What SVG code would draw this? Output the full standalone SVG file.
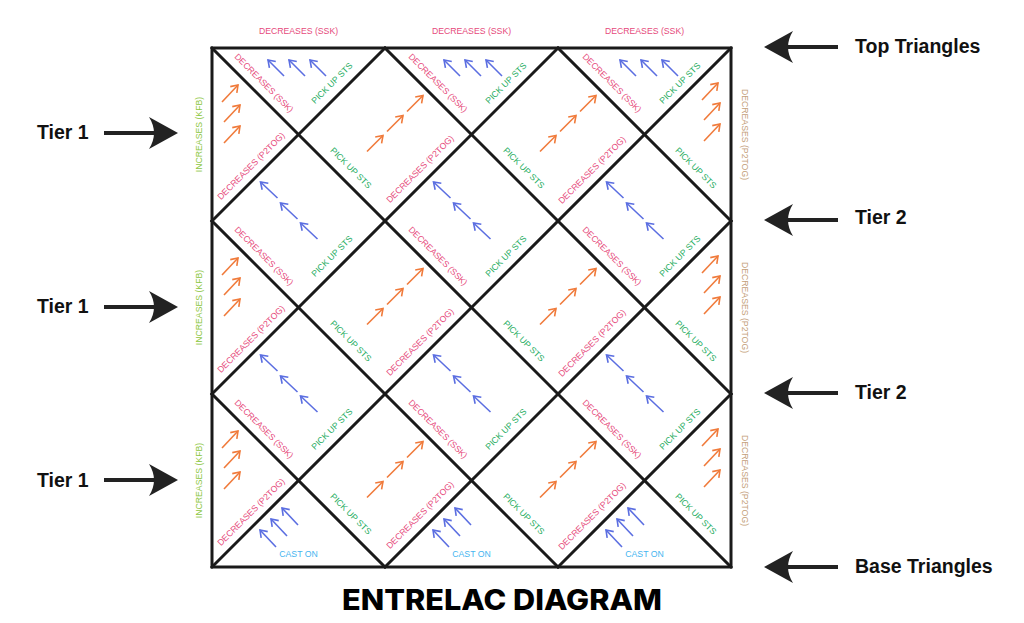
<svg xmlns="http://www.w3.org/2000/svg" xmlns:xlink="http://www.w3.org/1999/xlink" width="1024" height="623" viewBox="0 0 1024 623">
<style>
.lbl{font-family:"Liberation Sans",Arial,sans-serif;font-size:8.7px;text-anchor:middle;dominant-baseline:central}
.pink{fill:#e64a7b}
.green{fill:#26ad5f}
.cast{fill:#45b5f0}
.inc{fill:#8cc63e}
.dec2{fill:#c4a07a}
.big{font-family:"Liberation Sans",Arial,sans-serif;font-size:19.5px;font-weight:bold;fill:#111}
.title{font-family:Inter,"Liberation Sans",sans-serif;font-size:28px;font-weight:800;fill:#000;text-anchor:middle}
.grid{stroke:#1a1a1a;stroke-width:3;fill:none;stroke-linecap:square}
.ba line{stroke:#5b6ee1;stroke-width:1.6;marker-end:url(#mb)}
.oa line{stroke:#f07a3a;stroke-width:1.6;marker-end:url(#mo)}
</style>
<defs>
<marker id="mb" markerUnits="userSpaceOnUse" orient="auto" markerWidth="12" markerHeight="12" refX="0" refY="0" viewBox="-8 -6 10 12" overflow="visible"><path d="M-6.5,-4.5 L0,0 L-6.5,4.5" fill="none" stroke="#5b6ee1" stroke-width="1.6"/></marker>
<marker id="mo" markerUnits="userSpaceOnUse" orient="auto" markerWidth="12" markerHeight="12" refX="0" refY="0" viewBox="-8 -6 10 12" overflow="visible"><path d="M-6.5,-4.5 L0,0 L-6.5,4.5" fill="none" stroke="#f07a3a" stroke-width="1.6"/></marker>
<g id="bt3" class="ba"><line x1="16" y1="16" x2="0" y2="0"/><line x1="37" y1="16" x2="21" y2="0"/><line x1="58" y1="16" x2="42" y2="0"/></g>
<g id="ol3" class="oa"><line x1="0" y1="0" x2="16" y2="-17"/><line x1="2" y1="20" x2="18" y2="3"/><line x1="2" y1="41" x2="18" y2="24"/></g>
<g id="od3" class="oa"><line x1="-18" y1="17" x2="-2" y2="1"/><line x1="2" y1="-3" x2="18" y2="-19"/><line x1="22" y1="-23" x2="38" y2="-39"/></g>
<g id="bd3" class="ba"><line x1="-21" y1="-23" x2="-38" y2="-39"/><line x1="-1" y1="-2" x2="-18" y2="-18"/><line x1="19" y1="18" x2="2" y2="2"/></g>
<g id="bb3" class="ba"><line x1="64" y1="153" x2="48" y2="136"/><line x1="75" y1="142" x2="59" y2="125"/><line x1="86" y1="131" x2="70" y2="114"/></g>
<g id="bigArrow" fill="#222"><rect x="-74" y="-2" width="54" height="4"/><path d="M0,0 L-29,-16 Q-19,0 -29,16 Z"/></g>
</defs>
<rect width="1024" height="623" fill="#fff"/>

<g id="connectors">
<rect class="grid" x="212" y="48" width="519" height="519"/>
<path class="grid" d="M212,394 L385,567 M212,221 L558,567 M212,48 L731,567 M385,48 L731,394 M558,48 L731,221"/>
<path class="grid" d="M212,221 L385,48 M212,394 L558,48 M212,567 L731,48 M385,567 L731,221 M558,567 L731,394"/>
<use href="#bigArrow" transform="translate(178,133)"/>
<use href="#bigArrow" transform="translate(178,307)"/>
<use href="#bigArrow" transform="translate(178,480)"/>
<use href="#bigArrow" transform="translate(764,47) scale(-1,1)"/>
<use href="#bigArrow" transform="translate(764,220) scale(-1,1)"/>
<use href="#bigArrow" transform="translate(764,393) scale(-1,1)"/>
<use href="#bigArrow" transform="translate(764,567) scale(-1,1)"/>
</g>

<g id="top-triangles">
<text class="lbl pink" x="298.5" y="31">DECREASES (SSK)</text>
<text class="lbl pink" x="471.5" y="31">DECREASES (SSK)</text>
<text class="lbl pink" x="644.5" y="31">DECREASES (SSK)</text>
<use href="#bt3" x="268" y="60"/>
<use href="#bt3" x="444" y="60"/>
<use href="#bt3" x="620" y="60"/>
</g>

<g id="cell-labels">
<text class="lbl pink" transform="translate(264,83) rotate(45)">DECREASES (SSK)</text>
<text class="lbl pink" transform="translate(438,83) rotate(45)">DECREASES (SSK)</text>
<text class="lbl pink" transform="translate(612,83) rotate(45)">DECREASES (SSK)</text>
<text class="lbl pink" transform="translate(264,256) rotate(45)">DECREASES (SSK)</text>
<text class="lbl pink" transform="translate(438,256) rotate(45)">DECREASES (SSK)</text>
<text class="lbl pink" transform="translate(612,256) rotate(45)">DECREASES (SSK)</text>
<text class="lbl pink" transform="translate(264,429) rotate(45)">DECREASES (SSK)</text>
<text class="lbl pink" transform="translate(438,429) rotate(45)">DECREASES (SSK)</text>
<text class="lbl pink" transform="translate(612,429) rotate(45)">DECREASES (SSK)</text>

<text class="lbl green" transform="translate(332,83) rotate(-45)">PICK UP STS</text>
<text class="lbl green" transform="translate(506,83) rotate(-45)">PICK UP STS</text>
<text class="lbl green" transform="translate(680,83) rotate(-45)">PICK UP STS</text>
<text class="lbl green" transform="translate(332,256) rotate(-45)">PICK UP STS</text>
<text class="lbl green" transform="translate(506,256) rotate(-45)">PICK UP STS</text>
<text class="lbl green" transform="translate(680,256) rotate(-45)">PICK UP STS</text>
<text class="lbl green" transform="translate(332,429) rotate(-45)">PICK UP STS</text>
<text class="lbl green" transform="translate(506,429) rotate(-45)">PICK UP STS</text>
<text class="lbl green" transform="translate(680,429) rotate(-45)">PICK UP STS</text>

<text class="lbl pink" transform="translate(251,166) rotate(-45)">DECREASES (P2TOG)</text>
<text class="lbl pink" transform="translate(420,169) rotate(-45)">DECREASES (P2TOG)</text>
<text class="lbl pink" transform="translate(592,170) rotate(-45)">DECREASES (P2TOG)</text>
<text class="lbl pink" transform="translate(251,339) rotate(-45)">DECREASES (P2TOG)</text>
<text class="lbl pink" transform="translate(420,342) rotate(-45)">DECREASES (P2TOG)</text>
<text class="lbl pink" transform="translate(592,343) rotate(-45)">DECREASES (P2TOG)</text>
<text class="lbl pink" transform="translate(251,512) rotate(-45)">DECREASES (P2TOG)</text>
<text class="lbl pink" transform="translate(420,515) rotate(-45)">DECREASES (P2TOG)</text>
<text class="lbl pink" transform="translate(592,516) rotate(-45)">DECREASES (P2TOG)</text>

<text class="lbl green" transform="translate(351,168) rotate(45)">PICK UP STS</text>
<text class="lbl green" transform="translate(524,168) rotate(45)">PICK UP STS</text>
<text class="lbl green" transform="translate(696,168) rotate(45)">PICK UP STS</text>
<text class="lbl green" transform="translate(351,341) rotate(45)">PICK UP STS</text>
<text class="lbl green" transform="translate(524,341) rotate(45)">PICK UP STS</text>
<text class="lbl green" transform="translate(696,341) rotate(45)">PICK UP STS</text>
<text class="lbl green" transform="translate(351,514) rotate(45)">PICK UP STS</text>
<text class="lbl green" transform="translate(524,514) rotate(45)">PICK UP STS</text>
<text class="lbl green" transform="translate(696,514) rotate(45)">PICK UP STS</text>
</g>

<g id="side-triangles">
<use href="#ol3" x="222" y="102"/>
<use href="#ol3" x="222" y="275"/>
<use href="#ol3" x="222" y="448"/>
<use href="#ol3" x="702" y="100"/>
<use href="#ol3" x="702" y="273"/>
<use href="#ol3" x="702" y="446"/>
<text class="lbl inc" transform="translate(199,134.5) rotate(-90)">INCREASES (KFB)</text>
<text class="lbl inc" transform="translate(199,307.5) rotate(-90)">INCREASES (KFB)</text>
<text class="lbl inc" transform="translate(199,480.5) rotate(-90)">INCREASES (KFB)</text>
<text class="lbl dec2" transform="translate(745,134.5) rotate(90)">DECREASES (P2TOG)</text>
<text class="lbl dec2" transform="translate(745,307.5) rotate(90)">DECREASES (P2TOG)</text>
<text class="lbl dec2" transform="translate(745,480.5) rotate(90)">DECREASES (P2TOG)</text>
</g>

<g id="diamonds">
<use href="#od3" x="385" y="134.5"/>
<use href="#od3" x="558" y="134.5"/>
<use href="#od3" x="385" y="307.5"/>
<use href="#od3" x="558" y="307.5"/>
<use href="#od3" x="385" y="480.5"/>
<use href="#od3" x="558" y="480.5"/>
<use href="#bd3" x="298.5" y="221"/>
<use href="#bd3" x="471.5" y="221"/>
<use href="#bd3" x="644.5" y="221"/>
<use href="#bd3" x="298.5" y="394"/>
<use href="#bd3" x="471.5" y="394"/>
<use href="#bd3" x="644.5" y="394"/>
</g>

<g id="base-triangles">
<use href="#bb3" x="212" y="394"/>
<use href="#bb3" x="385" y="394"/>
<use href="#bb3" x="558" y="394"/>
<text class="lbl cast" x="298.5" y="554">CAST ON</text>
<text class="lbl cast" x="471.5" y="554">CAST ON</text>
<text class="lbl cast" x="644.5" y="554">CAST ON</text>
</g>

<g id="tier-labels">
<text class="big" x="37" y="139">Tier 1</text>
<text class="big" x="37" y="313">Tier 1</text>
<text class="big" x="37" y="487">Tier 1</text>
<text class="big" x="855" y="53">Top Triangles</text>
<text class="big" x="855" y="224">Tier 2</text>
<text class="big" x="855" y="399">Tier 2</text>
<text class="big" x="855" y="573">Base Triangles</text>
</g>

<g id="title">
<text class="title" x="502" y="610" textLength="320" lengthAdjust="spacingAndGlyphs">ENTRELAC DIAGRAM</text>
</g>
</svg>
